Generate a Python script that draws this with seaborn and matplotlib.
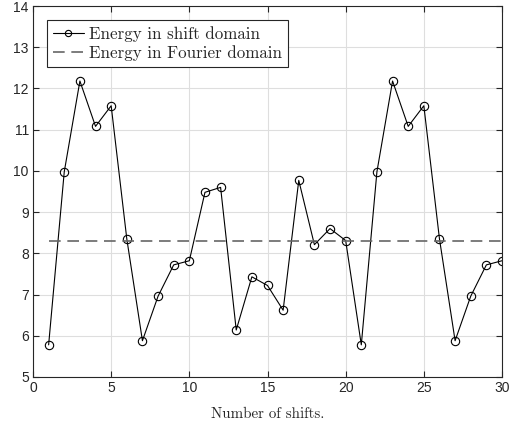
import matplotlib
matplotlib.use("Agg")
import matplotlib.pyplot as plt
import pandas as pd
import seaborn as sns

# values
shifts = list(range(1, 31))
energy_shift = [5.78, 9.98, 12.18, 11.08, 11.58, 8.35, 5.88, 6.96, 7.72, 7.82,
                9.48, 9.60, 6.14, 7.43, 7.22, 6.62, 9.77, 8.21, 8.60, 8.31,
                5.78, 9.98, 12.18, 11.08, 11.58, 8.35, 5.88, 6.96, 7.72, 7.82]
energy_fourier = 8.31

df = pd.DataFrame({"shift": shifts, "energy": energy_shift,
                   "fourier": [energy_fourier] * len(shifts)})

sns.set_style("whitegrid")
plt.rcParams["font.family"] = ["Liberation Sans", "DejaVu Sans"]
plt.rcParams["mathtext.fontset"] = "cm"

fig = plt.figure(figsize=(5.13, 4.24), dpi=100)
ax = fig.add_axes([33 / 513, 1 - 377 / 424, (502 - 33) / 513, (377 - 6) / 424])

sns.lineplot(data=df, x="shift", y="energy", ax=ax, color="black", linewidth=0.8,
             marker="o", markersize=6, markerfacecolor="none",
             markeredgecolor="black", markeredgewidth=0.8,
             label="Energy in shift domain")
sns.lineplot(data=df, x="shift", y="fourier", ax=ax, color="#666666",
             linewidth=1.2, dashes=False, label="Energy in Fourier domain")
ax.lines[-1].set_dashes([7, 4])

ax.set_xlim(0, 30)
ax.set_ylim(5, 14)
ax.set_xticks(range(0, 31, 5))
ax.set_yticks(range(5, 15))
ax.grid(True, color="#dedede", linewidth=0.8)
for s in ax.spines.values():
    s.set_color("#262626")
    s.set_linewidth(0.8)
ax.tick_params(direction="in", length=4, width=0.8, color="#262626",
               labelsize=10, top=True, right=True, bottom=True, left=True,
               labelcolor="#262626", pad=3)

ax.set_xlabel("Number of shifts.", fontfamily="cmr10", fontsize=10.8,
              labelpad=9, color="#262626")
ax.set_ylabel("")

leg = ax.legend(loc="upper left", bbox_to_anchor=(0.030, 0.962),
                prop={"family": "cmr10", "size": 12.2}, frameon=True,
                fancybox=False, edgecolor="#262626", framealpha=1,
                handlelength=1.8, handletextpad=0.35, borderpad=0.35,
                labelspacing=0.2, borderaxespad=0, markerscale=0.75)
leg.get_frame().set_linewidth(0.8)

fig.savefig("out.png", dpi=100)
